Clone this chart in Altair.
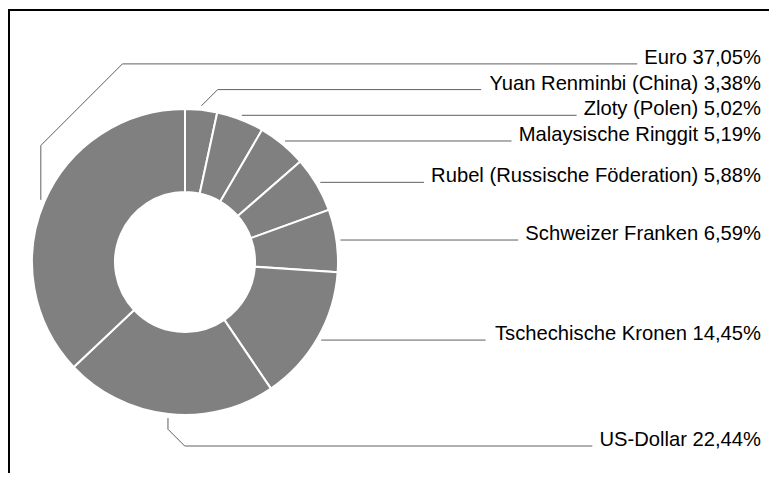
import math
import altair as alt
import pandas as pd

# ---- data ----
currencies = [
    "Yuan Renminbi (China)",
    "Zloty (Polen)",
    "Malaysische Ringgit",
    "Rubel (Russische Föderation)",
    "Schweizer Franken",
    "Tschechische Kronen",
    "US-Dollar",
    "Euro",
]
shares = [3.38, 5.02, 5.19, 5.88, 6.59, 14.45, 22.44, 37.05]

# ---- layout constants (chart pixel space) ----
W, H = 761, 465
CX, CY = 177, 254
R_OUT, R_IN = 153, 70
R_ANCHOR = 157
FONT_SIZE = 20.2
TEXT_RIGHT = 753
SPACING = 25.7
GAP = 7

# Arial / Liberation Sans advance widths (per 1000 em)
AFM = {" ": 278, "%": 889, "(": 333, ")": 333, ",": 278, "-": 333, ".": 278}
AFM.update({d: 556 for d in "0123456789"})
AFM.update(dict(zip("ABCDEFGHIJKLMNOPQRSTUVWXYZ",
                    [667, 667, 722, 722, 667, 611, 778, 722, 278, 500, 667, 556, 833,
                     722, 778, 667, 778, 722, 667, 611, 722, 667, 944, 667, 667, 611])))
AFM.update(dict(zip("abcdefghijklmnopqrstuvwxyz",
                    [556, 556, 500, 556, 556, 278, 556, 556, 222, 222, 500, 222, 833,
                     556, 556, 556, 556, 333, 500, 278, 556, 500, 722, 500, 500, 500])))
AFM["ö"] = 556


def text_width(s):
    return sum(AFM.get(c, 556) for c in s) * FONT_SIZE / 1000.0


labels = [f"{n} {v:.2f}%".replace(".", ",") for n, v in zip(currencies, shares)]
total = sum(shares)

slices = pd.DataFrame({"currency": currencies, "share": shares, "idx": range(len(shares))})

# mid angles, anchors and natural label positions
info = []
cum = 0.0
for i, (lab, v) in enumerate(zip(labels, shares)):
    a = (cum + v / 2) / total * 2 * math.pi
    cum += v
    ax = CX + R_ANCHOR * math.sin(a)
    ay = CY - R_ANCHOR * math.cos(a)
    if math.sin(a) >= 0:
        nat = ay
    elif math.cos(a) > 0:
        nat = CY - (R_OUT + 31)
    else:
        nat = CY + (R_OUT + 31)
    key = (a - 1.5 * math.pi) % (2 * math.pi)
    info.append(dict(label=lab, a=a, ax=ax, ay=ay, nat=nat, key=key))

info.sort(key=lambda d: d["key"])
# push labels upward to avoid overlap
for j in range(len(info) - 1, -1, -1):
    y = info[j]["nat"]
    if j < len(info) - 1:
        y = min(y, info[j + 1]["ly"] - SPACING)
    info[j]["ly"] = y

line_rows, text_rows = [], []
for d in info:
    ax, ay, ly = d["ax"], d["ay"], d["ly"]
    end_x = TEXT_RIGHT - text_width(d["label"]) - GAP
    pts = [(ax, ay)]
    dy = ly - ay
    if abs(dy) > 0.6:
        diag = min(abs(dy), max(16, 0.6 * abs(dy)))
        sgn = 1 if dy > 0 else -1
        pts.append((ax, ly - sgn * diag))
        pts.append((ax + diag, ly))
    else:
        pts = [(ax, ly)]
    pts.append((end_x, ly))
    for k, (px, py) in enumerate(pts):
        line_rows.append(dict(label=d["label"], seq=k, px=px, py=py))
    text_rows.append(dict(label=d["label"], tx=TEXT_RIGHT, ly=ly))

lines = pd.DataFrame(line_rows)
texts = pd.DataFrame(text_rows)

xs = alt.Scale(domain=[0, W], range=[0, W], zero=False, nice=False)
ys = alt.Scale(domain=[0, H], range=[0, H], zero=False, nice=False)

arc = alt.Chart(slices).mark_arc(
    radius=R_OUT, innerRadius=R_IN, stroke="white", strokeWidth=2, fill="#808080"
).encode(
    theta=alt.Theta("share:Q", stack=True),
    order=alt.Order("idx:Q"),
    x=alt.value(CX),
    y=alt.value(CY),
)

leader = alt.Chart(lines).mark_line(color="#606060", strokeWidth=1).encode(
    x=alt.X("px:Q", scale=xs, axis=None),
    y=alt.Y("py:Q", scale=ys, axis=None),
    detail="label:N",
    order="seq:Q",
)

text = alt.Chart(texts).mark_text(
    align="right", baseline="alphabetic", fontSize=FONT_SIZE,
    font="Liberation Sans", color="black"
).encode(
    x=alt.X("tx:Q", scale=xs, axis=None),
    y=alt.Y("ly:Q", scale=ys, axis=None),
    text="label:N",
)

frame_top = alt.Chart(slices).mark_rule(color="black", strokeWidth=2).encode(
    x=alt.value(0), x2=alt.value(W), y=alt.value(2)
)
frame_left = alt.Chart(slices).mark_rule(color="black", strokeWidth=2).encode(
    x=alt.value(1), y=alt.value(1), y2=alt.value(H)
)

chart = alt.layer(arc, leader, text, frame_top, frame_left).properties(
    width=W, height=H, autosize=alt.AutoSizeParams(type="none"), padding=0,
    background="white",
).configure_view(stroke=None)

chart.save("out.html", embed_options={"renderer": "svg", "actions": False})
